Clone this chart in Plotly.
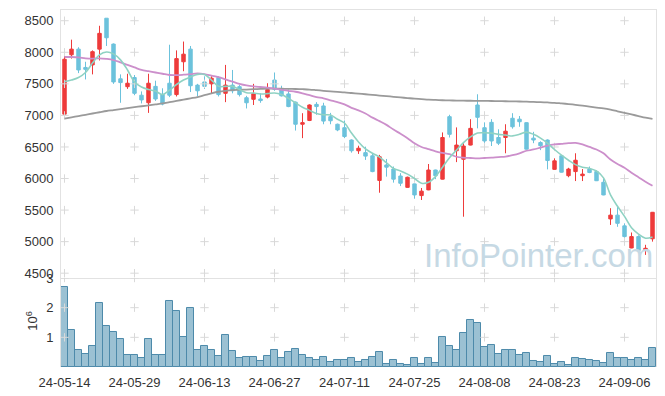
import plotly.graph_objects as go
from plotly.subplots import make_subplots

dates = ["24-05-14","24-05-16","24-05-17","24-05-20","24-05-21","24-05-22","24-05-23","24-05-24","24-05-27","24-05-28",
         "24-05-29","24-05-30","24-05-31","24-06-03","24-06-04","24-06-05","24-06-07","24-06-10","24-06-11","24-06-12",
         "24-06-13","24-06-14","24-06-17","24-06-18","24-06-19","24-06-20","24-06-21","24-06-24","24-06-25","24-06-26",
         "24-06-27","24-06-28","24-07-01","24-07-02","24-07-03","24-07-04","24-07-05","24-07-08","24-07-09","24-07-10",
         "24-07-11","24-07-12","24-07-15","24-07-16","24-07-17","24-07-18","24-07-19","24-07-22","24-07-23","24-07-24",
         "24-07-25","24-07-26","24-07-29","24-07-30","24-07-31","24-08-01","24-08-02","24-08-05","24-08-06","24-08-07",
         "24-08-08","24-08-09","24-08-12","24-08-13","24-08-14","24-08-16","24-08-19","24-08-20","24-08-21","24-08-22",
         "24-08-23","24-08-26","24-08-27","24-08-28","24-08-29","24-08-30","24-09-02","24-09-03","24-09-04","24-09-05",
         "24-09-06","24-09-09","24-09-10","24-09-11","24-09-12"]

opens = [7020,7960,8050,7760,7800,8050,8540,8130,7580,7455,
         7600,7320,7200,7460,7330,7510,7330,7850,8050,7480,
         7530,7500,7600,7350,7480,7455,7280,7255,7260,7290,
         7560,7420,7340,7210,6860,6920,7175,7150,6980,6860,
         6805,6610,6440,6410,6360,5970,6215,6150,6040,5860,
         5915,5730,5820,6135,5990,6980,6440,6305,6530,7165,
         6805,6890,6650,6650,6955,6940,6885,6640,6570,6610,
         6145,6360,6045,6110,6045,6150,6110,5940,5360,5420,
         5250,4900,5080,4870,5045]
highs = [8030,8200,8080,7850,8030,8420,8540,8140,7650,7660,
         7640,7380,7660,7550,7430,8120,8030,8170,8100,7500,
         7620,7620,7620,7800,7720,7480,7310,7500,7350,7510,
         7680,7470,7410,7220,7035,7175,7210,7200,7040,6870,
         6920,6620,6520,6505,6400,6375,6310,6190,6085,6030,
         5920,5850,6230,6140,6730,7010,6810,6560,6940,7335,
         6890,6940,6780,6860,7035,6990,6890,6740,6590,6620,
         6320,6370,6170,6400,6150,6190,6130,6005,5530,5555,
         5290,5145,5100,4950,5470]
lows = [6980,7900,7670,7570,7650,7870,8100,7500,7200,7420,
        7320,7190,7040,7230,7160,7290,7300,7700,7370,7300,
        7420,7340,7300,7210,7350,7300,7110,7165,7200,7270,
        7390,7300,7130,6760,6640,6910,7010,6860,6860,6750,
        6640,6410,6390,6295,6100,5775,6030,5935,5880,5855,
        5680,5660,5815,5990,5985,6650,6260,5395,6525,6795,
        6545,6515,6530,6400,6790,6820,6460,6560,6450,6145,
        6140,6095,6020,5960,5960,6085,5960,5735,5265,5235,
        5050,4895,4850,4790,5000]
closes = [7890,8050,7720,7730,8010,8300,8230,7530,7520,7510,
          7350,7245,7510,7260,7180,7320,7900,7970,7470,7390,
          7460,7590,7330,7480,7390,7330,7200,7345,7235,7410,
          7415,7310,7140,6860,6885,7165,7140,6910,6915,6770,
          6665,6440,6480,6355,6110,6345,6180,5990,5925,6020,
          5740,5800,6135,6045,6650,6700,6530,6515,6795,6970,
          6595,6595,6560,6750,6820,6900,6465,6610,6520,6285,
          6280,6100,6150,6290,6070,6095,5965,5740,5420,5290,
          5080,5080,4860,4895,5465]

# volume in millions of shares
volume_m = [2.71,1.24,0.58,0.43,0.70,2.17,1.37,1.18,0.93,0.40,
            0.40,0.30,0.93,0.40,0.40,2.23,1.90,1.00,2.00,0.57,
            0.70,0.57,0.37,1.07,0.53,0.30,0.33,0.33,0.20,0.37,
            0.57,0.30,0.50,0.60,0.40,0.30,0.23,0.33,0.17,0.23,
            0.23,0.30,0.17,0.23,0.33,0.50,0.10,0.23,0.10,0.07,
            0.30,0.10,0.30,0.13,1.00,0.70,0.57,1.13,1.60,1.50,
            0.67,0.73,0.43,0.57,0.57,0.40,0.47,0.20,0.17,0.37,
            0.10,0.17,0.07,0.30,0.27,0.23,0.20,0.13,0.47,0.30,
            0.30,0.23,0.30,0.23,0.63]

ma_short = [7535,7560,7600,7680,7830,7960,8005,7975,7880,7720,
            7530,7450,7410,7385,7330,7400,7490,7560,7610,7650,
            7650,7560,7460,7460,7460,7410,7360,7355,7340,7345,
            7355,7330,7270,7200,7130,7080,7030,7010,7005,6940,
            6880,6720,6580,6470,6400,6340,6250,6160,6120,6070,
            6000,5925,5940,6030,6180,6330,6450,6570,6660,6720,
            6725,6720,6700,6690,6675,6700,6735,6700,6640,6560,
            6460,6370,6290,6220,6180,6160,6120,6010,5740,5560,
            5400,5220,5120,5055,5075]
ma_mid = [7925,7925,7920,7905,7900,7905,7895,7877,7840,7800,
          7760,7720,7700,7680,7660,7640,7638,7645,7655,7665,
          7655,7630,7605,7570,7535,7500,7475,7460,7450,7440,
          7425,7405,7390,7375,7350,7320,7290,7270,7240,7210,
          7175,7120,7080,7030,6965,6910,6850,6775,6710,6640,
          6560,6500,6465,6430,6405,6385,6345,6330,6325,6320,
          6325,6330,6340,6346,6370,6400,6440,6460,6490,6520,
          6540,6550,6560,6565,6540,6500,6460,6400,6300,6230,
          6170,6090,6020,5950,5885]
ma_long = [6950,6970,6990,7010,7030,7050,7070,7085,7100,7115,
           7130,7145,7160,7175,7190,7210,7230,7250,7270,7290,
           7320,7350,7375,7390,7400,7405,7410,7415,7420,7425,
           7425,7422,7420,7418,7415,7410,7400,7390,7380,7372,
           7365,7355,7345,7335,7325,7315,7305,7295,7285,7275,
           7265,7258,7250,7245,7240,7237,7235,7233,7232,7231,
           7230,7228,7226,7224,7222,7220,7217,7213,7209,7205,
           7200,7190,7180,7168,7155,7140,7125,7110,7090,7065,
           7040,7015,6990,6965,6945]

price_ticks = [4500, 5000, 5500, 6000, 6500, 7000, 7500, 8000, 8500]
vol_ticks = [1, 2, 3]
x_tick_idx = [0, 10, 20, 30, 40, 50, 60, 70, 80]
x_ticks = [dates[i] for i in x_tick_idx]

RED = "#ee3b3b"
BLUE = "#6cc2dc"
GRID = "#d9d9d9"
FRAME = "#e2e2e2"

fig = make_subplots(rows=2, cols=1, shared_xaxes=True, vertical_spacing=0,
                    row_heights=[0.7507, 0.2493])

fig.add_trace(go.Candlestick(x=dates, open=opens, high=highs, low=lows, close=closes,
                             increasing=dict(line=dict(color=RED, width=1), fillcolor=RED),
                             decreasing=dict(line=dict(color=BLUE, width=1), fillcolor=BLUE),
                             showlegend=False), row=1, col=1)
fig.add_trace(go.Bar(x=dates, y=volume_m, marker=dict(color="rgba(122,172,196,0.75)",
                                                      line=dict(color="#4d8aaa", width=1)),
                     showlegend=False), row=2, col=1)

# grid "+" marks
gx, gy = [], []
for t in x_ticks:
    for p in price_ticks:
        gx.append(t); gy.append(p)
fig.add_trace(go.Scatter(x=gx, y=gy, mode="markers", hoverinfo="skip",
                         marker=dict(symbol="cross-thin", size=6, line=dict(color=GRID, width=1)),
                         showlegend=False), row=1, col=1)
gx2, gy2 = [], []
for t in x_ticks:
    for v in vol_ticks:
        gx2.append(t); gy2.append(v)
fig.add_trace(go.Scatter(x=gx2, y=gy2, mode="markers", hoverinfo="skip",
                         marker=dict(symbol="cross-thin", size=6, line=dict(color=GRID, width=1)),
                         showlegend=False), row=2, col=1)

fig.add_trace(go.Scatter(x=dates, y=ma_long, mode="lines", line=dict(color="#9a9a9a", width=1.8, shape="spline"),
                         showlegend=False, hoverinfo="skip"), row=1, col=1)
fig.add_trace(go.Scatter(x=dates, y=ma_mid, mode="lines", line=dict(color="#cc8fcb", width=1.8, shape="spline"),
                         showlegend=False, hoverinfo="skip"), row=1, col=1)
fig.add_trace(go.Scatter(x=dates, y=ma_short, mode="lines", line=dict(color="#8fd2c3", width=1.6, shape="spline"),
                         showlegend=False, hoverinfo="skip"), row=1, col=1)

font = dict(family="Liberation Sans, Arial, sans-serif", size=13, color="#333333")

fig.update_xaxes(type="category", categoryorder="array", categoryarray=dates,
                 range=[-0.5, 84.5], showgrid=False, zeroline=False, automargin=False,
                 tickmode="array", tickvals=x_ticks, ticktext=x_ticks, tickfont=font, tickangle=0,
                 rangeslider_visible=False)
fig.update_xaxes(showline=True, linecolor=FRAME, linewidth=1, mirror=True, showticklabels=False, row=1, col=1)
fig.update_xaxes(showline=False, ticks="outside", ticklen=3, tickcolor="rgba(0,0,0,0)", row=2, col=1)

fig.update_yaxes(range=[4424, 8670], tickmode="array", tickvals=price_ticks, showgrid=False, zeroline=False,
                 showline=True, linecolor=FRAME, linewidth=1, mirror=True, tickfont=font, automargin=False,
                 ticks="outside", ticklen=4, tickcolor="rgba(0,0,0,0)", row=1, col=1)
fig.update_yaxes(range=[0, 3], tickmode="array", tickvals=vol_ticks, showgrid=False, zeroline=False,
                 showline=True, linecolor=FRAME, linewidth=1, mirror=True, tickfont=font, automargin=False,
                 ticks="outside", ticklen=4, tickcolor="rgba(0,0,0,0)", row=2, col=1)

fig.add_annotation(text="InfoPointer.com", xref="paper", yref="paper", x=0.803, y=0.255,
                   xanchor="center", yanchor="bottom",
                   showarrow=False, font=dict(family="Liberation Sans, Arial, sans-serif", size=33, color="#c6d9e4"))
fig.add_annotation(text="10<sup>6</sup>", xref="paper", yref="paper", x=-0.05, y=0.13, xanchor="center",
                   yanchor="middle", textangle=-90, showarrow=False, font=font)

# page body has an 8px default margin, so the figure box is offset by 8px
fig.update_layout(width=657, height=388, autosize=False, margin=dict(l=53, r=9, t=2, b=29),
                  paper_bgcolor="white", plot_bgcolor="white", bargap=0, showlegend=False)

fig.write_html("out.html")
